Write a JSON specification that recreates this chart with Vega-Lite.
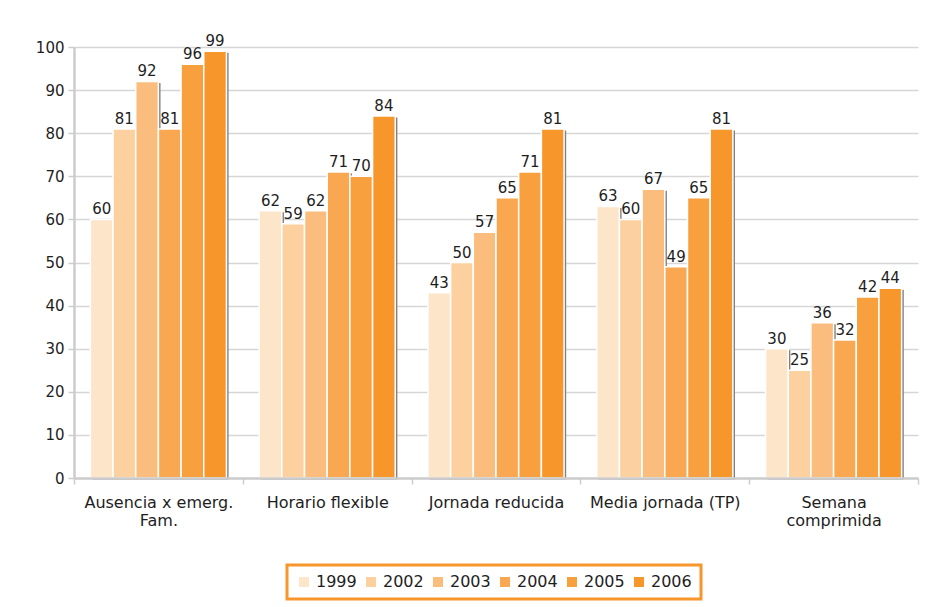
{
  "$schema": "https://vega.github.io/schema/vega-lite/v6.json",
  "autosize": "none",
  "width": 844,
  "height": 431,
  "padding": {"left": 74, "top": 47, "right": 12, "bottom": 129},
  "background": "white",
  "data": {"values": [
    {"cat": "Ausencia x emerg. Fam.", "year": "1999", "v": 60},
    {"cat": "Ausencia x emerg. Fam.", "year": "2002", "v": 81},
    {"cat": "Ausencia x emerg. Fam.", "year": "2003", "v": 92},
    {"cat": "Ausencia x emerg. Fam.", "year": "2004", "v": 81},
    {"cat": "Ausencia x emerg. Fam.", "year": "2005", "v": 96},
    {"cat": "Ausencia x emerg. Fam.", "year": "2006", "v": 99},
    {"cat": "Horario flexible", "year": "1999", "v": 62},
    {"cat": "Horario flexible", "year": "2002", "v": 59},
    {"cat": "Horario flexible", "year": "2003", "v": 62},
    {"cat": "Horario flexible", "year": "2004", "v": 71},
    {"cat": "Horario flexible", "year": "2005", "v": 70},
    {"cat": "Horario flexible", "year": "2006", "v": 84},
    {"cat": "Jornada reducida", "year": "1999", "v": 43},
    {"cat": "Jornada reducida", "year": "2002", "v": 50},
    {"cat": "Jornada reducida", "year": "2003", "v": 57},
    {"cat": "Jornada reducida", "year": "2004", "v": 65},
    {"cat": "Jornada reducida", "year": "2005", "v": 71},
    {"cat": "Jornada reducida", "year": "2006", "v": 81},
    {"cat": "Media jornada (TP)", "year": "1999", "v": 63},
    {"cat": "Media jornada (TP)", "year": "2002", "v": 60},
    {"cat": "Media jornada (TP)", "year": "2003", "v": 67},
    {"cat": "Media jornada (TP)", "year": "2004", "v": 49},
    {"cat": "Media jornada (TP)", "year": "2005", "v": 65},
    {"cat": "Media jornada (TP)", "year": "2006", "v": 81},
    {"cat": "Semana comprimida", "year": "1999", "v": 30},
    {"cat": "Semana comprimida", "year": "2002", "v": 25},
    {"cat": "Semana comprimida", "year": "2003", "v": 36},
    {"cat": "Semana comprimida", "year": "2004", "v": 32},
    {"cat": "Semana comprimida", "year": "2005", "v": 42},
    {"cat": "Semana comprimida", "year": "2006", "v": 44}
  ]},
  "encoding": {
    "x": {
      "field": "cat", "type": "nominal", "sort": null,
      "scale": {"paddingInner": 0, "paddingOuter": 0},
      "axis": {
        "title": null, "labelAngle": 0, "tickBand": "extent", "zindex": 1,
        "domainColor": "#cccccc", "domainWidth": 2.5,
        "tickColor": "#cccccc", "tickWidth": 1.5, "tickSize": 6,
        "labelFont": "DejaVu Sans", "labelFontSize": 16, "labelColor": "#1e1e1e",
        "labelPadding": 10, "labelLineHeight": 18, "labelLimit": 300,
        "labelExpr": "datum.value == 'Ausencia x emerg. Fam.' ? ['Ausencia x emerg.', 'Fam.'] : datum.value == 'Semana comprimida' ? ['Semana', 'comprimida'] : datum.value"
      }
    },
    "y": {
      "field": "v", "type": "quantitative",
      "scale": {"domain": [0, 100], "nice": false},
      "axis": {
        "title": null, "values": [0, 10, 20, 30, 40, 50, 60, 70, 80, 90, 100],
        "domainColor": "#cccccc", "domainWidth": 2.5,
        "gridColor": "#d6d6d6", "gridWidth": 1.5,
        "tickColor": "#cccccc", "tickWidth": 1.5, "tickSize": 6,
        "labelFont": "DejaVu Sans", "labelFontSize": 15, "labelColor": "#1e1e1e",
        "labelPadding": 4
      }
    }
  },
  "layer": [
    {
      "mark": {"type": "bar", "color": "#808080", "yOffset": 1.5},
      "encoding": {
        "xOffset": {
          "field": "year", "type": "nominal",
          "scale": {"paddingInner": 0, "paddingOuter": 0.72, "align": 0.565}
        }
      }
    },
    {
      "layer": [
        {
          "mark": {"type": "bar", "stroke": "white", "strokeWidth": 1.5},
          "encoding": {
            "color": {
              "field": "year", "type": "nominal",
              "scale": {
                "domain": ["1999", "2002", "2003", "2004", "2005", "2006"],
                "range": ["#FDE5CA", "#FDD19F", "#FBBD7D", "#F9A851", "#F89F3E", "#F7962B"]
              },
              "legend": {
                "title": null, "orient": "none", "legendX": 213, "legendY": 518,
                "direction": "horizontal", "columns": 6,
                "symbolType": "square", "symbolSize": 100, "symbolStrokeWidth": 0,
                "labelFont": "DejaVu Sans", "labelFontSize": 16, "labelColor": "#1e1e1e",
                "labelOffset": 4, "columnPadding": 6, "padding": 9,
                "strokeColor": "#F7962A"
              }
            }
          }
        },
        {
          "mark": {"type": "text", "baseline": "alphabetic", "dy": -5, "font": "DejaVu Sans", "fontSize": 15, "color": "#1e1e1e"},
          "encoding": {"text": {"field": "v", "type": "quantitative"}}
        }
      ],
      "encoding": {
        "xOffset": {
          "field": "year", "type": "nominal",
          "scale": {"paddingInner": 0, "paddingOuter": 0.72}
        }
      }
    }
  ],
  "resolve": {"scale": {"xOffset": "independent"}},
  "config": {"view": {"stroke": null}, "legend": {"strokeWidth": 3}}
}
